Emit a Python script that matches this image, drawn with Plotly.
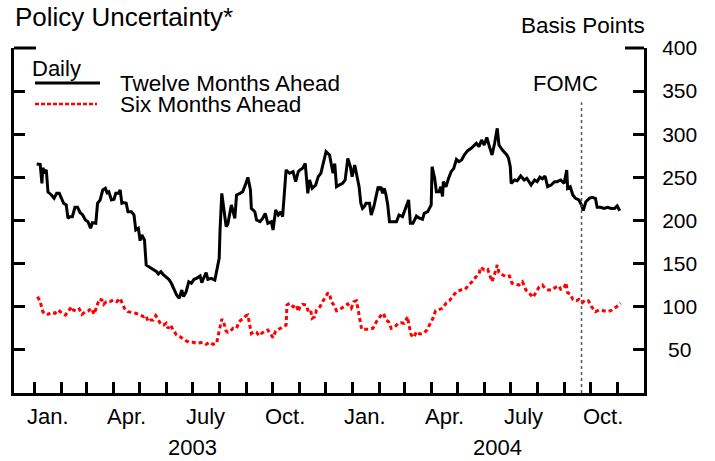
import pandas as pd
import plotly.graph_objects as go

# ---------------- data ----------------
BASE_DATE = "2003-01-01"  # day offsets below are days since this date

# Twelve months ahead (basis points), daily
twelve_days = [2, 6, 8, 9, 11, 13, 15, 19, 22, 25, 28, 31, 33, 36, 38, 40, 43, 46, 49, 52,
               55, 58, 61, 64, 66, 70, 72, 75, 78, 81, 83, 85, 88, 91, 93, 96, 98, 100, 102, 105,
               107, 111, 114, 116, 119, 121, 123, 126, 128, 132, 136, 140, 142, 145, 148, 151, 154, 157, 160, 163,
               166, 169, 171, 174, 177, 180, 183, 186, 190, 192, 194, 197, 199, 203, 207, 209, 212, 213, 215, 216,
               218, 220, 222, 226, 230, 232, 236, 239, 242, 245, 248, 249, 253, 255, 259, 262, 265, 268, 272, 274,
               277, 280, 283, 285, 287, 289, 293, 297, 300, 303, 305, 308, 311, 314, 316, 319, 323, 326, 329, 332,
               335, 339, 343, 345, 347, 350, 354, 357, 360, 363, 365, 368, 370, 373, 375, 377, 379, 381, 385, 387,
               390, 392, 395, 397, 398, 400, 402, 404, 406, 408, 412, 416, 419, 423, 425, 428, 430, 432, 435, 439,
               442, 446, 448, 452, 456, 457, 460, 462, 465, 467, 469, 470, 473, 476, 479, 482, 485, 488, 491, 494,
               498, 502, 506, 508, 511, 514, 517, 520, 523, 526, 529, 532, 534, 538, 543, 545, 547, 548, 552, 555,
               559, 563, 566, 569, 571, 575, 578, 581, 584, 587, 590, 594, 598, 601, 605, 609, 612, 613, 616, 619,
               622, 626, 629, 631, 634, 638, 641, 645, 647, 651, 655, 659, 663, 667, 670, 673]
twelve_bp = [265.5, 265, 243, 261, 256.6, 258.6, 233, 229.6, 225.7, 231.5, 231.5, 225.7, 220, 218, 202.5, 204.4, 204.4, 215.3, 215.3, 209,
             206.4, 200.6, 198.6, 191, 197.4, 196.7, 220, 223.8, 235.4, 237.3, 232.2, 233.4, 223.8, 224.6, 231.5, 231.5, 235.4, 220, 220.7, 220,
             210.2, 210.2, 206.4, 189, 191, 176.6, 183.2, 177.4, 148.4, 145.7, 143.4, 140.6, 138, 140.6, 136.8, 134.8, 131.8, 127.2, 120.2, 113.6,
             109.8, 119.4, 111.7, 117.4, 129, 127.2, 131.8, 133, 135.7, 127.9, 133, 139.5, 131.8, 133, 131, 140.6, 156.2, 189, 231.5, 223.8,
             205, 193, 196, 218, 202.5, 229.6, 231.5, 233.4, 241, 250, 235.4, 214, 210.2, 200.6, 198.6, 202.5, 208.3, 196.7, 198.6, 189,
             212.2, 206.4, 210.2, 204.4, 231.5, 258.6, 254.7, 256.6, 245, 256.6, 258.6, 260.5, 266.3, 231.5, 247, 237.3, 241, 250.8, 254.7, 266.3,
             279.8, 276, 254.7, 266, 239.2, 241, 243, 247, 272, 262.4, 250.8, 264.3, 254.7, 239.2, 220, 214, 216, 220, 220, 206.4,
             216, 225.7, 239.2, 235.4, 239.2, 231.5, 237.3, 229.6, 218, 198.6, 198.6, 198.6, 206.4, 204.4, 210.2, 220, 223.8, 196.7, 196.7, 205.2,
             203, 201.4, 208.3, 210.2, 218, 262.4, 249, 233.4, 233.4, 239.2, 227.9, 245, 239.2, 249, 256.6, 260.5, 270.8, 268.2, 270.1, 276,
             281, 283.7, 287.5, 289.5, 285.6, 293.3, 287.5, 296.4, 285.6, 276, 289.5, 306.9, 287.5, 281.7, 276, 272.1, 262.4, 243.1, 247, 246.1,
             251.6, 247, 249, 245, 241.2, 247, 245, 250.3, 248.4, 251.6, 239.2, 241.2, 245, 245, 247, 243.1, 258.6, 237.3, 239.2, 229.6,
             225.7, 223.8, 218, 211.4, 221.8, 225.7, 226.8, 225.7, 215.3, 215.3, 214, 215.3, 214, 214, 216.8, 211.4]

# Six months ahead (basis points), daily
six_days = [3, 6, 9, 12, 15, 19, 23, 27, 31, 35, 38, 42, 44, 48, 51, 54, 58, 61, 65, 68,
            71, 74, 77, 79, 82, 86, 90, 94, 98, 101, 103, 107, 111, 116, 121, 125, 128, 130, 133, 136,
            139, 142, 145, 148, 151, 153, 156, 159, 163, 167, 170, 174, 178, 182, 186, 190, 193, 197, 201, 205,
            209, 211, 213, 215, 217, 220, 222, 225, 228, 232, 235, 239, 243, 245, 247, 249, 252, 255, 258, 261,
            264, 268, 271, 274, 277, 281, 285, 289, 290, 293, 297, 301, 303, 305, 308, 312, 314, 317, 319, 322,
            324, 328, 331, 335, 337, 339, 341, 344, 347, 351, 355, 360, 364, 367, 370, 373, 376, 379, 384, 389,
            393, 397, 401, 404, 407, 410, 414, 418, 421, 425, 429, 430, 433, 436, 439, 443, 447, 451, 454, 458,
            461, 465, 469, 473, 477, 482, 485, 490, 495, 499, 503, 507, 511, 513, 517, 521, 523, 526, 529, 532,
            534, 538, 542, 546, 549, 554, 557, 561, 565, 569, 573, 577, 580, 584, 587, 591, 595, 599, 603, 605,
            609, 611, 613, 616, 619, 623, 626, 630, 633, 637, 641, 645, 649, 654, 659, 664, 669, 672, 674]
six_bp = [111.7, 105.9, 94.3, 91.2, 91.2, 93.6, 92.4, 96.2, 92.4, 90.4, 94.3, 100, 96.2, 95, 97.4, 91.2, 94.3, 95, 98.2, 91.2,
          100, 109, 107.8, 102.8, 105.9, 105.9, 107.8, 105.9, 109.8, 102, 98.2, 94.3, 93.6, 92.4, 90.4, 88.5, 89.7, 82.9, 84.6, 84.6,
          89.7, 84.6, 79.6, 78.8, 80.8, 75, 78.8, 73, 67.2, 65.3, 63.4, 60.3, 58.8, 58.8, 57.6, 58.8, 58.8, 56.5, 58.8, 56.5,
          57.6, 67.2, 78.8, 85.8, 82.7, 71.9, 70.4, 71.9, 75, 75, 82.7, 86.6, 89.7, 90.4, 78.8, 69.1, 71.1, 70.4, 66.4, 69.1,
          71.9, 73, 69.1, 64.1, 71.9, 74.2, 76.9, 78.8, 102, 104, 100, 102, 94.3, 100, 102.8, 102, 96.2, 97.4, 86.6, 88.5,
          96.2, 100, 105.9, 111.7, 115.6, 115.6, 105.9, 102, 95.4, 97, 100, 103.2, 98.2, 105.9, 107, 92.4, 73.8, 73.8, 73.8, 75,
          82.7, 88.5, 92.4, 84.6, 82.7, 75, 76.2, 80.8, 81.5, 80.8, 88.5, 80.8, 67.2, 64.5, 71.1, 68.4, 69.1, 73, 78.8, 86.6,
          95.4, 97, 98.2, 104, 107, 113.6, 117.4, 119.4, 120.2, 125.2, 129, 134.1, 138, 145.7, 142.6, 143.4, 136.8, 129, 138, 148.4,
          139.5, 136.8, 134.8, 135.7, 127.2, 126, 125.2, 129, 119.4, 115.6, 110.8, 117.4, 122.5, 125.2, 121.4, 119.4, 119.4, 122.5, 124.1, 120.2,
          121.4, 127.9, 116.3, 114.8, 108.6, 107, 108.6, 104.7, 107.8, 107, 99.4, 94.3, 96.2, 95.4, 94.3, 96.2, 99.4, 102, 104]

series_names = ["Twelve Months Ahead", "Six Months Ahead"]
legend_title = "Daily"

y_tick_values = [50, 100, 150, 200, 250, 300, 350, 400]
y_tick_labels = ["\u00a050", "100", "150", "200", "250", "300", "350", "400"]

month_labels = ["Jan.", "Apr.", "July", "Oct.", "Jan.", "Apr.", "July", "Oct."]
month_label_dates = ["2003-01-16", "2003-04-16", "2003-07-16", "2003-10-16",
                     "2004-01-16", "2004-04-16", "2004-07-16", "2004-10-16"]
year_labels = ["2003", "2004"]
year_label_dates = ["2003-07-01", "2004-06-16"]

fomc_date = "2004-09-21"
fomc_line_top = 337

x_range = ["2002-12-07 20:45", "2004-12-01 21:40"]
y_range = [0, 400]

# ---------------- figure ----------------
FONT = "Arial, 'Liberation Sans', Helvetica, sans-serif"
base = pd.Timestamp(BASE_DATE)
x_twelve = base + pd.to_timedelta(twelve_days, unit="D")
x_six = base + pd.to_timedelta(six_days, unit="D")
month_starts = pd.date_range("2003-01-01", "2004-11-01", freq="MS")

fig = go.Figure()
fig.add_trace(go.Scatter(x=x_twelve, y=twelve_bp, mode="lines", name=series_names[0],
                         line=dict(color="black", width=3), showlegend=False))
fig.add_trace(go.Scatter(x=x_six, y=six_bp, mode="lines", name=series_names[1],
                         line=dict(color="#ff0000", width=3, dash="4px,3px"), showlegend=False))

W, H = 715, 461
L, R, T, B = 14, 71, 48, 68
pw, ph = W - L - R, H - T - B


def px(xp):
    return (xp - L) / pw


def py(yp):
    return (H - B - yp) / ph


fig.update_layout(
    width=W, height=H,
    margin=dict(l=L, r=R, t=T, b=B),
    paper_bgcolor="white", plot_bgcolor="white",
    font=dict(family=FONT, size=22, color="black"),
    showlegend=False,
    xaxis=dict(type="date", range=x_range, showgrid=False, zeroline=False,
               showline=True, linecolor="black", linewidth=3,
               ticks="inside", ticklen=11, tickwidth=2.5, tickcolor="black",
               tickvals=month_starts, showticklabels=False),
    yaxis=dict(side="right", range=y_range, showgrid=False, zeroline=False,
               showline=True, linecolor="black", linewidth=3, mirror="ticks",
               ticks="inside", ticklen=11, tickwidth=2.5, tickcolor="black",
               tickvals=y_tick_values, ticktext=y_tick_labels,
               tickfont=dict(size=21, family=FONT), ticklabelstandoff=11),
)

ann = []
ann.append(dict(text="Policy Uncertainty*", x=px(13), y=py(17), xref="paper", yref="paper",
                xanchor="left", yanchor="middle", showarrow=False, font=dict(size=26)))
ann.append(dict(text="Basis Points", x=px(647), y=py(25), xref="paper", yref="paper",
                xanchor="right", yanchor="middle", showarrow=False, font=dict(size=22.5)))
ann.append(dict(text=legend_title, x=px(30), y=py(68), xref="paper", yref="paper",
                xanchor="left", yanchor="middle", showarrow=False, font=dict(size=22)))
ann.append(dict(text=series_names[0], x=px(118), y=py(83), xref="paper", yref="paper",
                xanchor="left", yanchor="middle", showarrow=False, font=dict(size=22.5)))
ann.append(dict(text=series_names[1], x=px(118), y=py(104), xref="paper", yref="paper",
                xanchor="left", yanchor="middle", showarrow=False, font=dict(size=22.5)))
ann.append(dict(text="FOMC", x=fomc_date, y=py(84), xref="x", yref="paper", xshift=-16,
                xanchor="center", yanchor="middle", showarrow=False, font=dict(size=22)))
for lab, d in zip(month_labels, month_label_dates):
    ann.append(dict(text=lab, x=d, y=py(416), xref="x", yref="paper",
                    xanchor="center", yanchor="middle", showarrow=False, font=dict(size=22)))
for lab, d in zip(year_labels, year_label_dates):
    ann.append(dict(text=lab, x=d, y=py(447), xref="x", yref="paper",
                    xanchor="center", yanchor="middle", showarrow=False, font=dict(size=22)))
fig.update_layout(annotations=ann)

shapes = [
    # legend samples
    dict(type="line", xref="paper", yref="paper", x0=px(35), x1=px(100), y0=py(83), y1=py(83),
         line=dict(color="black", width=3)),
    dict(type="line", xref="paper", yref="paper", x0=px(35), x1=px(97), y0=py(104), y1=py(104),
         line=dict(color="#ff0000", width=2.5, dash="4px,2px")),
    # FOMC marker
    dict(type="line", xref="x", yref="y", x0=fomc_date, x1=fomc_date, y0=y_range[0], y1=fomc_line_top,
         line=dict(color="#555555", width=1.5, dash="3px,3px")),
    # longer corner ticks at the top
    dict(type="line", xref="paper", yref="paper", x0=0, x1=px(36), y0=1, y1=1,
         line=dict(color="black", width=3)),
    dict(type="line", xref="paper", yref="paper", x0=px(625), x1=1, y0=1, y1=1,
         line=dict(color="black", width=3)),
]
fig.update_layout(shapes=shapes)

fig.write_html("out.html", config={"displayModeBar": False},
               post_script="document.body.style.margin='0';document.body.style.padding='0';")
